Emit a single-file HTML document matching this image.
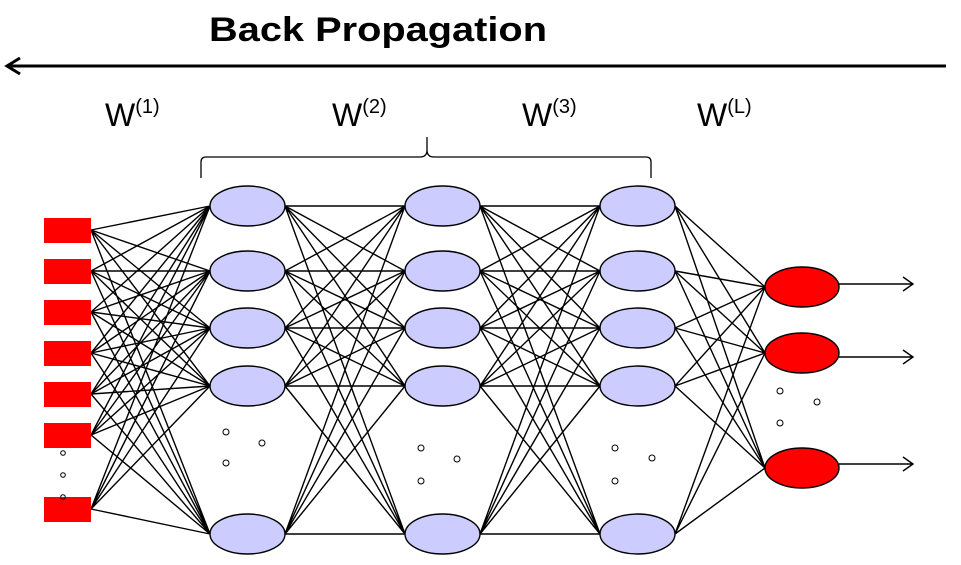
<!DOCTYPE html>
<html><head><meta charset="utf-8"><style>
html,body{margin:0;padding:0;background:#fff;}
svg{display:block;}
</style></head><body>
<svg width="961" height="565" viewBox="0 0 961 565" xmlns="http://www.w3.org/2000/svg">
<text x="378" y="41" text-anchor="middle" font-family="Liberation Sans, sans-serif" font-weight="bold" font-size="34" textLength="338" lengthAdjust="spacingAndGlyphs">Back Propagation</text>
<line x1="8" y1="66" x2="946" y2="66" stroke="#000" stroke-width="3"/>
<path d="M20 58L7 66L20 74" fill="none" stroke="#000" stroke-width="3"/>
<g font-family="Liberation Sans, sans-serif" font-size="32">
<text x="105" y="126">W<tspan font-size="20" dy="-13">(1)</tspan></text>
<text x="332" y="126">W<tspan font-size="20" dy="-13">(2)</tspan></text>
<text x="522" y="126">W<tspan font-size="20" dy="-13">(3)</tspan></text>
<text x="697" y="126">W<tspan font-size="20" dy="-13">(L)</tspan></text>
</g>
<path d="M201 178L201 162Q201 157 206 157L420 157Q427 157 427 150L427 137M427 150Q427 157 434 157L646 157Q651 157 651 162L651 178" fill="none" stroke="#000" stroke-width="1.3"/>
<g stroke="#000" stroke-width="1.4" fill="none">
<path d="M91 230L210 206M91 230L210 271M91 230L210 328M91 230L210 386M91 230L210 534M91 271L210 206M91 271L210 271M91 271L210 328M91 271L210 386M91 271L210 534M91 312L210 206M91 312L210 271M91 312L210 328M91 312L210 386M91 312L210 534M91 353L210 206M91 353L210 271M91 353L210 328M91 353L210 386M91 353L210 534M91 394L210 206M91 394L210 271M91 394L210 328M91 394L210 386M91 394L210 534M91 435L210 206M91 435L210 271M91 435L210 328M91 435L210 386M91 435L210 534M91 509L210 206M91 509L210 271M91 509L210 328M91 509L210 386M91 509L210 534"/>
<path d="M285 206L405 206M285 206L405 271M285 206L405 328M285 206L405 386M285 206L405 534M285 271L405 206M285 271L405 271M285 271L405 328M285 271L405 386M285 271L405 534M285 328L405 206M285 328L405 271M285 328L405 328M285 328L405 386M285 328L405 534M285 386L405 206M285 386L405 271M285 386L405 328M285 386L405 386M285 386L405 534M285 534L405 206M285 534L405 271M285 534L405 328M285 534L405 386M285 534L405 534"/>
<path d="M480 206L600 206M480 206L600 271M480 206L600 328M480 206L600 386M480 206L600 534M480 271L600 206M480 271L600 271M480 271L600 328M480 271L600 386M480 271L600 534M480 328L600 206M480 328L600 271M480 328L600 328M480 328L600 386M480 328L600 534M480 386L600 206M480 386L600 271M480 386L600 328M480 386L600 386M480 386L600 534M480 534L600 206M480 534L600 271M480 534L600 328M480 534L600 386M480 534L600 534"/>
<path d="M675 206L765 287M675 206L765 353M675 206L765 468M675 271L765 287M675 271L765 353M675 271L765 468M675 328L765 287M675 328L765 353M675 328L765 468M675 386L765 287M675 386L765 353M675 386L765 468M675 534L765 287M675 534L765 353M675 534L765 468"/>
<path d="M839 284L913 284M903 277L913 284L903 291M839 357L913 357M903 350L913 357L903 364M839 464L913 464M903 457L913 464L903 471"/>
</g>
<g fill="#f00">
<rect x="44" y="218" width="47" height="25"/>
<rect x="44" y="259" width="47" height="25"/>
<rect x="44" y="300" width="47" height="25"/>
<rect x="44" y="341" width="47" height="25"/>
<rect x="44" y="382" width="47" height="25"/>
<rect x="44" y="423" width="47" height="25"/>
<rect x="44" y="497" width="47" height="25"/>
</g>
<g fill="#ccccff" stroke="#000" stroke-width="1.4">
<ellipse cx="247.5" cy="206" rx="37.5" ry="20"/><ellipse cx="247.5" cy="271" rx="37.5" ry="20"/><ellipse cx="247.5" cy="328" rx="37.5" ry="20"/><ellipse cx="247.5" cy="386" rx="37.5" ry="20"/><ellipse cx="247.5" cy="534" rx="37.5" ry="20"/>
<ellipse cx="442.5" cy="206" rx="37.5" ry="20"/><ellipse cx="442.5" cy="271" rx="37.5" ry="20"/><ellipse cx="442.5" cy="328" rx="37.5" ry="20"/><ellipse cx="442.5" cy="386" rx="37.5" ry="20"/><ellipse cx="442.5" cy="534" rx="37.5" ry="20"/>
<ellipse cx="637.5" cy="206" rx="37.5" ry="20"/><ellipse cx="637.5" cy="271" rx="37.5" ry="20"/><ellipse cx="637.5" cy="328" rx="37.5" ry="20"/><ellipse cx="637.5" cy="386" rx="37.5" ry="20"/><ellipse cx="637.5" cy="534" rx="37.5" ry="20"/>
</g>
<g fill="#f00" stroke="#000" stroke-width="1.4">
<ellipse cx="802" cy="287" rx="37" ry="20"/><ellipse cx="802" cy="353" rx="37" ry="20"/><ellipse cx="802" cy="468" rx="37" ry="20"/>
</g>
<g fill="none" stroke="#000" stroke-width="1">
<circle cx="63" cy="453" r="2.3"/><circle cx="63" cy="475" r="2.3"/><circle cx="63" cy="497" r="2.3"/>
<circle cx="226" cy="432" r="3"/><circle cx="262" cy="443" r="3"/><circle cx="226" cy="463" r="3"/>
<circle cx="421" cy="448" r="3"/><circle cx="457" cy="459" r="3"/><circle cx="421" cy="481" r="3"/>
<circle cx="615" cy="448" r="3"/><circle cx="652" cy="458" r="3"/><circle cx="615" cy="481" r="3"/>
<circle cx="780" cy="391" r="3"/><circle cx="817" cy="402" r="3"/><circle cx="780" cy="423" r="3"/>
</g>
</svg>
</body></html>
